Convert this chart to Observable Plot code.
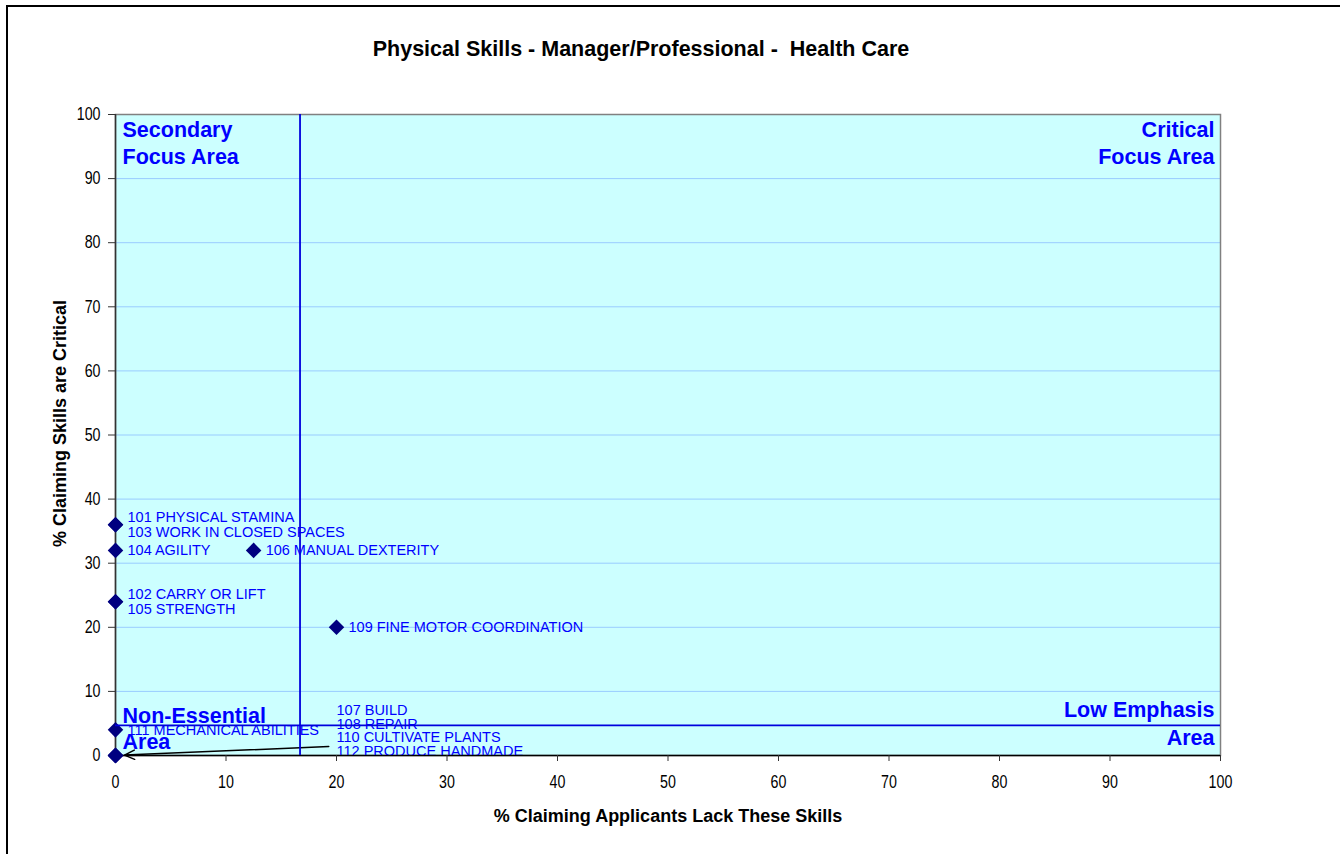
<!DOCTYPE html>
<html>
<head>
<meta charset="utf-8">
<script src="https://cdn.jsdelivr.net/npm/d3@7"></script>
<script src="https://cdn.jsdelivr.net/npm/@observablehq/plot@0.6"></script>
<style>
  html, body { margin: 0; padding: 0; background: #fff; }
  #wrap { position: relative; width: 1340px; height: 854px; overflow: hidden; font-family: Arial, "Liberation Sans", sans-serif; }
  #border { position: absolute; left: 6px; top: 5px; width: 1400px; height: 900px; border: 2px solid #000; }
  #title { position: absolute; left: 0; top: 37px; width: 1282px; text-align: center; font-weight: bold; font-size: 21.5px; line-height: 24px; white-space: pre; color: #000; }
  #chart { position: absolute; left: 0; top: 80px; }
</style>
</head>
<body>
<div id="wrap">
  <div id="border"></div>
  <div id="title">Physical Skills - Manager/Professional -  Health Care</div>
  <div id="chart"></div>
</div>
<script>
// ---- data ----
const skills = [
  "101 PHYSICAL STAMINA",
  "102 CARRY OR LIFT",
  "103 WORK IN CLOSED SPACES",
  "104 AGILITY",
  "105 STRENGTH",
  "106 MANUAL DEXTERITY",
  "107 BUILD",
  "108 REPAIR",
  "109 FINE MOTOR COORDINATION",
  "110 CULTIVATE PLANTS",
  "111 MECHANICAL ABILITIES",
  "112 PRODUCE HANDMADE CRAFTS"
];
const lackPct     = [0, 0, 0, 0, 0, 12.5, 0, 0, 20, 0, 0, 0];
const criticalPct = [36, 24, 36, 32, 24, 32, 0, 0, 20, 0, 4, 0];

const xTicks = [0, 10, 20, 30, 40, 50, 60, 70, 80, 90, 100];
const yTicks = [0, 10, 20, 30, 40, 50, 60, 70, 80, 90, 100];

const dividerLack = 16.7;     // vertical quadrant line
const dividerCritical = 4.7;  // horizontal quadrant line

const quadrantLabels = {
  secondary: "Secondary\nFocus Area",
  critical: "Critical\nFocus Area",
  nonEssential: "Non-Essential\nArea",
  lowEmphasis: "Low Emphasis\nArea"
};

const xLabel = "% Claiming Applicants Lack These Skills";
const yLabel = "% Claiming Skills are Critical";

// callout arrow start (where the moved label group sits) for the (0,0) point
const calloutStart = {lack: 19.3, critical: 1.4};

// ---- build table ----
const points = skills.map((s, i) => ({skill: s, lack: lackPct[i], critical: criticalPct[i]}));
const groups = d3.groups(points, d => d.lack + "," + d.critical).map(([key, items]) => ({
  key,
  lack: items[0].lack,
  critical: items[0].critical,
  text: items.map(d => d.skill).join("\n")
}));
const normalGroups = groups.filter(g => !(g.lack === 0 && g.critical === 0));
const movedGroups = groups.filter(g => g.lack === 0 && g.critical === 0);

const font = 'Arial, "Liberation Sans", sans-serif';
const blue = "#0000ff";

const chart = Plot.plot({
  width: 1340,
  height: 774,
  marginLeft: 115,
  marginRight: 120,
  marginTop: 34,
  marginBottom: 99,
  style: {fontFamily: font, fontSize: "15px", background: "transparent", overflow: "visible", color: "#000"},
  x: {domain: [0, 100]},
  y: {domain: [0, 100]},
  marks: [
    Plot.frame({fill: "#ccffff", stroke: null}),
    Plot.gridY({ticks: yTicks.filter(t => t > 0 && t < 100), stroke: "#99ccff", strokeOpacity: 1, strokeWidth: 1}),
    Plot.frame({stroke: "#808080", strokeWidth: 1.5}),
    Plot.ruleX([0], {stroke: "#333", strokeWidth: 1.5}),
    Plot.ruleY([0], {stroke: "#000", strokeWidth: 1.5}),
    Plot.axisY({ticks: yTicks, tickSize: 7, tickPadding: 8, fontSize: 15, label: null, stroke: "#333"}),
    Plot.axisX({ticks: xTicks, tickSize: 6, tickPadding: 14, fontSize: 15, label: null, stroke: "#333"}),
    Plot.text([xLabel], {frameAnchor: "bottom", text: d => d, textAnchor: "middle", lineAnchor: "top", dy: 54, fontSize: 18, fontWeight: "bold", fill: "#000"}),
    Plot.text([yLabel], {frameAnchor: "left", text: d => d, textAnchor: "middle", lineAnchor: "middle", rotate: -90, dx: -55, dy: -11.5, fontSize: 18, fontWeight: "bold", fill: "#000"}),
    Plot.arrow(movedGroups, {
      x1: () => calloutStart.lack, y1: () => calloutStart.critical,
      x2: "lack", y2: "critical",
      stroke: "#000", strokeWidth: 1.5, headLength: 11, headAngle: 50, insetEnd: 9
    }),
    Plot.text(normalGroups, {
      x: "lack", y: "critical", text: "text",
      textAnchor: "start", lineAnchor: "middle", dx: 12, fontSize: 14.5, lineHeight: 1.05, fill: blue
    }),
    Plot.text(movedGroups, {
      x: "lack", y: "critical", text: "text",
      textAnchor: "start", lineAnchor: "top", dx: 221, dy: -50, fontSize: 14.5, lineHeight: 0.93, lineWidth: 13.5, fill: blue, clip: true
    }),
    Plot.dot(points, {x: "lack", y: "critical", symbol: "diamond2", r: 7, fill: "#000080", stroke: null}),
    Plot.ruleX([dividerLack], {stroke: "#0000dd", strokeWidth: 1.8}),
    Plot.ruleY([dividerCritical], {stroke: "#0000dd", strokeWidth: 1.8}),
    Plot.text([quadrantLabels.secondary], {frameAnchor: "top-left", text: d => d, textAnchor: "start", lineAnchor: "top", dx: 7, dy: 3.8, fontSize: 21.5, fontWeight: "bold", lineHeight: 1.25, fill: blue}),
    Plot.text([quadrantLabels.critical], {frameAnchor: "top-right", text: d => d, textAnchor: "end", lineAnchor: "top", dx: -6, dy: 3.5, fontSize: 21.5, fontWeight: "bold", lineHeight: 1.25, fill: blue}),
    Plot.text([quadrantLabels.nonEssential], {frameAnchor: "bottom-left", text: d => d, textAnchor: "start", lineAnchor: "top", dx: 7, dy: -51, fontSize: 21.5, fontWeight: "bold", lineHeight: 1.2, fill: blue}),
    Plot.text([quadrantLabels.lowEmphasis], {frameAnchor: "bottom-right", text: d => d, textAnchor: "end", lineAnchor: "top", dx: -6, dy: -58.5, fontSize: 21.5, fontWeight: "bold", lineHeight: 1.3, fill: blue})
  ]
});
// the reference's tick numerals are slightly tall and narrow
chart.querySelectorAll('g[aria-label*="tick label"] text').forEach(t => {
  const tr = t.getAttribute("transform") || "";
  t.setAttribute("transform", tr + " scale(0.95,1.2)");
});
document.getElementById("chart").appendChild(chart);
</script>
</body>
</html>
